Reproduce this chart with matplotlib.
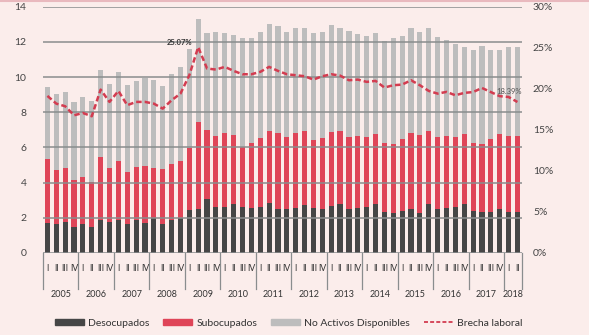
import numpy as np
import matplotlib
matplotlib.use("Agg")
import matplotlib.pyplot as plt
from matplotlib.patches import Patch
from matplotlib.lines import Line2D

plt.rcParams['font.family'] = ['Lato', 'DejaVu Sans']

# quarters 2005 I .. 2018 II
years = [str(y) for y in range(2005, 2019)]
quarters = ['I', 'II', 'III', 'IV']
n_q = [4] * 13 + [2]

# stacked levels (millions, left axis)
desocupados = [1.70, 1.65, 1.74, 1.48, 1.67, 1.46, 1.89, 1.74, 1.89, 1.63, 1.89, 1.70,
               1.99, 1.67, 1.89, 1.99, 2.42, 2.52, 3.07, 2.61, 2.61, 2.78, 2.61,
               2.56, 2.61, 2.82, 2.52, 2.52, 2.56, 2.71, 2.56, 2.52, 2.65, 2.78, 2.52,
               2.56, 2.61, 2.78, 2.33, 2.27, 2.37, 2.52, 2.27, 2.78, 2.52, 2.56, 2.61,
               2.78, 2.36, 2.31, 2.33, 2.52, 2.31, 2.31]
sub_top = [5.36, 4.72, 4.81, 4.15, 4.30, 4.02, 5.44, 4.81, 5.23, 4.62, 4.87, 4.94,
           4.83, 4.79, 5.04, 5.21, 5.97, 7.44, 7.01, 6.67, 6.82, 6.72, 6.00,
           6.25, 6.53, 6.95, 6.82, 6.57, 6.82, 6.95, 6.44, 6.52, 6.86, 6.91, 6.57,
           6.63, 6.59, 6.76, 6.25, 6.21, 6.50, 6.82, 6.69, 6.91, 6.57, 6.63, 6.57,
           6.76, 6.25, 6.19, 6.49, 6.78, 6.63, 6.63]
nad_top = [9.43, 9.02, 9.15, 8.58, 8.86, 8.66, 10.38, 9.60, 10.30, 9.55, 9.75, 9.92,
           9.81, 9.47, 10.19, 10.55, 11.59, 13.31, 12.50, 12.58, 12.50, 12.41, 12.22,
           12.20, 12.58, 13.03, 12.88, 12.58, 12.77, 12.77, 12.50, 12.58, 12.97, 12.78, 12.59,
           12.46, 12.35, 12.48, 12.03, 12.22, 12.31, 12.80, 12.56, 12.80, 12.27, 12.08, 11.87,
           11.70, 11.55, 11.74, 11.55, 11.55, 11.70, 11.70]
# brecha laboral (%, right axis)
brecha = [19.13, 18.19, 17.87, 16.77, 17.05, 16.65, 19.90, 18.40, 19.74, 18.00, 18.40, 18.40,
          18.19, 17.58, 18.60, 19.41, 21.65, 25.07, 22.47, 22.34, 22.67, 22.18, 21.77,
          21.77, 22.06, 22.67, 22.18, 21.77, 21.65, 21.53, 21.12, 21.53, 21.77, 21.61, 21.04,
          21.12, 20.84, 20.96, 20.15, 20.43, 20.51, 21.04, 20.43, 19.74, 19.41, 19.62, 19.21,
          19.50, 19.60, 20.10, 19.60, 19.10, 19.00, 18.39]

c_dark = '#464646'
c_red = '#DF4558'
c_gray = '#BDBDBD'
c_line = '#D33C50'
c_grid = '#8A8D8E'
bg = '#FBEDEB'

x = np.arange(len(desocupados))
d = np.array(desocupados)
s = np.array(sub_top)
g = np.array(nad_top)

fig = plt.figure(figsize=(5.89, 3.35), dpi=100, facecolor=bg)
ax = fig.add_axes([0.073, 0.245, 0.813, 0.735])
ax.set_facecolor(bg)

w = 0.58
ax.bar(x, d, w, color=c_dark, zorder=2)
ax.bar(x, s - d, w, bottom=d, color=c_red, zorder=2)
ax.bar(x, g - s, w, bottom=s, color=c_gray, zorder=2)

ax.set_xlim(-0.5, len(x) - 0.5)
ax.set_ylim(0, 14)
ax.set_yticks(range(0, 15, 2))
for v in range(0, 15, 2):
    ax.axhline(v, color=c_grid, lw=1.1, zorder=3)
for sp in ax.spines.values():
    sp.set_visible(False)
ax.tick_params(axis='y', length=0, labelsize=7.5, labelcolor='#444444', pad=12)
ax.set_xticks([])

ax2 = ax.twinx()
ax2.set_ylim(0, 30)
ax2.set_yticks(range(0, 31, 5))
ax2.set_yticklabels([f'{v}%' for v in range(0, 31, 5)])
for sp in ax2.spines.values():
    sp.set_visible(False)
ax2.tick_params(axis='y', length=0, labelsize=7.5, labelcolor='#444444', pad=8)
ax2.plot(x, brecha, color=c_line, lw=1.8, ls=(0, (2.2, 1.2)), zorder=4)
ax2.annotate('25.07%', xy=(17, brecha[17]), xytext=(-4, 1), textcoords='offset points',
             ha='right', va='bottom', fontsize=5.5, fontweight='bold', color='#333333')
ax2.annotate('18.39%', xy=(x[-1], brecha[-1]), xytext=(3, 5), textcoords='offset points',
             ha='right', va='bottom', fontsize=5.5, color='#555555')

# category axis: quarters and years
trans = ax.get_xaxis_transform()
pos = 0
for yr, nq in zip(years, n_q):
    ax.plot([pos - 0.5, pos - 0.5], [0, -0.145], transform=trans, color=c_grid,
            lw=0.9, clip_on=False)
    for q in range(nq):
        ax.text(pos + q, -0.062, quarters[q], transform=trans, ha='center', va='center',
                fontsize=6.2, color='#333333')
    ax.text(pos + (nq - 1) / 2, -0.168, yr, transform=trans, ha='center', va='center',
            fontsize=6.5, color='#333333')
    pos += nq
ax.plot([pos - 0.5, pos - 0.5], [0, -0.145], transform=trans, color=c_grid,
        lw=0.9, clip_on=False)

# top border strip
fig.add_artist(Line2D([0, 1], [0.997, 0.997], transform=fig.transFigure,
                      color='#E9B9BE', lw=1.5))

handles = [Patch(color=c_dark), Patch(color=c_red), Patch(color=c_gray),
           Line2D([], [], color=c_line, lw=1.3, ls=(0, (2.2, 1.2)))]
labels = ['Desocupados', 'Subocupados', 'No Activos Disponibles', 'Brecha laboral']
fig.legend(handles, labels, loc='center', bbox_to_anchor=(0.49, 0.035), ncol=4,
           frameon=False, fontsize=7.5, handlelength=2.8, handleheight=0.6,
           columnspacing=1.3, handletextpad=0.4, labelcolor='#333333')

fig.savefig('out.png', dpi=100, facecolor=bg)
